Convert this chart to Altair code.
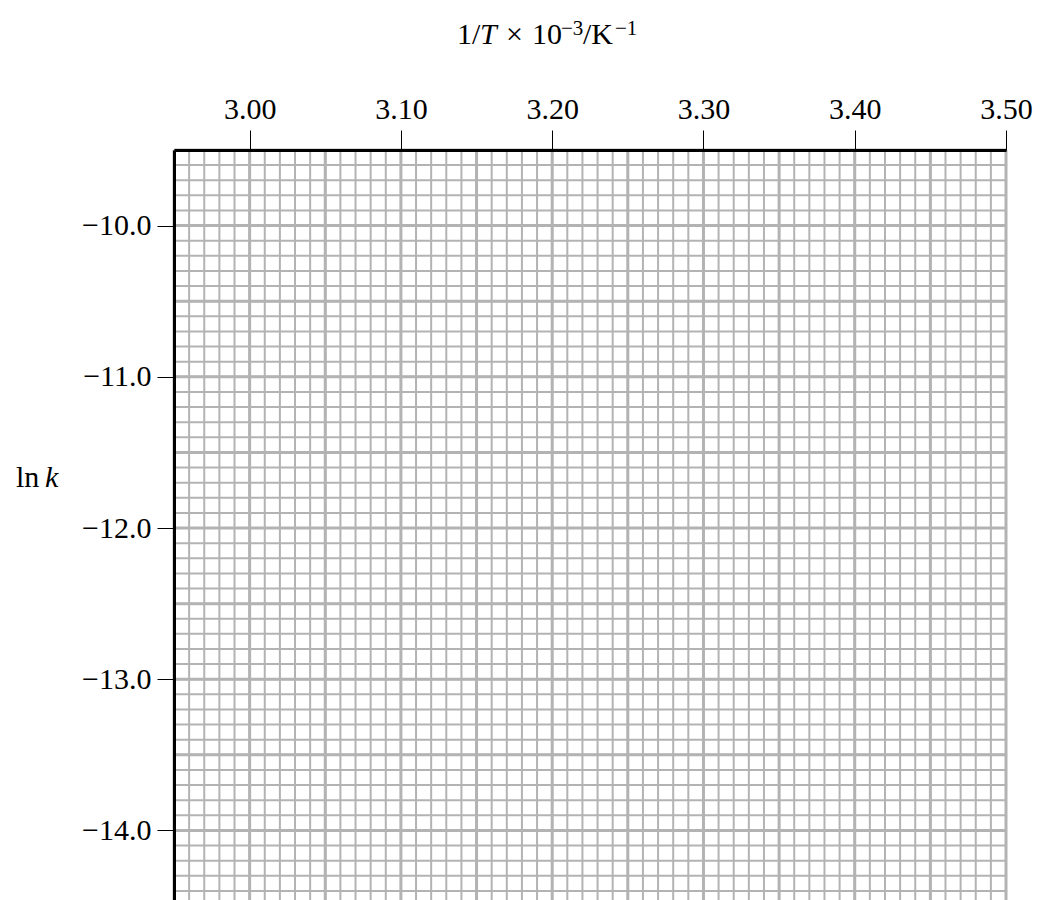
import altair as alt
import numpy as np
import pandas as pd

# Axis ticks / labels
x_ticks = [3.00, 3.10, 3.20, 3.30, 3.40, 3.50]
y_ticks = [-10.0, -11.0, -12.0, -13.0, -14.0]
x_domain = [2.95, 3.50]
y_domain = [-14.46, -9.5]

# Graph-paper grid positions
x_minor = np.round(np.arange(295, 351) / 100.0, 2)
x_major = [v for v in x_minor if round(v * 100) % 5 == 0]
y_minor = np.round(-np.arange(95, 146) / 10.0, 1)
y_major = [v for v in y_minor if round(-v * 10) % 5 == 0]

FONT = "Liberation Serif"
GRID = "#b3b3b3"
W, H = 832, 750

xs = alt.Scale(domain=x_domain, nice=False, zero=False)
ys = alt.Scale(domain=y_domain, nice=False, zero=False)

x_axis = alt.Axis(orient="top", values=x_ticks, format=".2f", title=None, grid=False,
                  domainColor="black", domainWidth=3, tickColor="black", tickWidth=1,
                  tickSize=20, labelFont=FONT, labelFontSize=30, labelColor="black",
                  labelPadding=12, labelBaseline="alphabetic", labelOverlap=False,
                  labelFlush=False, zindex=2)
y_axis = alt.Axis(orient="left", values=y_ticks, format=".1f", title=None, grid=False,
                  domainColor="black", domainWidth=3, tickColor="black", tickWidth=1,
                  tickSize=17, labelFont=FONT, labelFontSize=30, labelColor="black",
                  labelPadding=6, labelBaseline="middle", labelOverlap=False,
                  labelFlush=False, zindex=2)

vx_minor = alt.Chart(pd.DataFrame({"x": x_minor})).mark_rule(color=GRID, strokeWidth=2).encode(
    x=alt.X("x:Q", scale=xs, axis=x_axis))
vx_major = alt.Chart(pd.DataFrame({"x": x_major})).mark_rule(color=GRID, strokeWidth=3).encode(
    x=alt.X("x:Q", scale=xs, axis=x_axis))
hy_minor = alt.Chart(pd.DataFrame({"y": y_minor})).mark_rule(color=GRID, strokeWidth=2).encode(
    y=alt.Y("y:Q", scale=ys, axis=y_axis))
hy_major = alt.Chart(pd.DataFrame({"y": y_major})).mark_rule(color=GRID, strokeWidth=3).encode(
    y=alt.Y("y:Q", scale=ys, axis=y_axis))

one = alt.InlineData(values=[{}])


def txt(s, x, y, size=30, italic=False):
    kw = dict(text=s, font=FONT, fontSize=size, align="left", baseline="alphabetic",
              color="black")
    if italic:
        kw["fontStyle"] = "italic"
    return alt.Chart(one).mark_text(**kw).encode(x=alt.value(x), y=alt.value(y))


title_y = -106
sup_y = -115
title_parts = [
    txt("1/", 283, title_y),
    txt("T", 306, title_y, italic=True),
    txt("\u00d7", 332, title_y),
    txt("10", 358, title_y),
    txt("\u22123", 387, sup_y, size=21),
    txt("/K", 409, title_y),
    txt("\u22121", 441, sup_y, size=21),
]
ylab = [
    txt("ln", -158, 337),
    txt("k", -129, 337, italic=True),
]

chart = alt.layer(vx_minor, hy_minor, vx_major, hy_major, *title_parts, *ylab).properties(
    width=W, height=H,
    padding={"left": 166, "top": 142, "right": 27, "bottom": 0},
    autosize=alt.AutoSizeParams(type="none"),
).configure_view(stroke=None)

chart.save("out.html", embed_options={"renderer": "svg", "actions": False})
